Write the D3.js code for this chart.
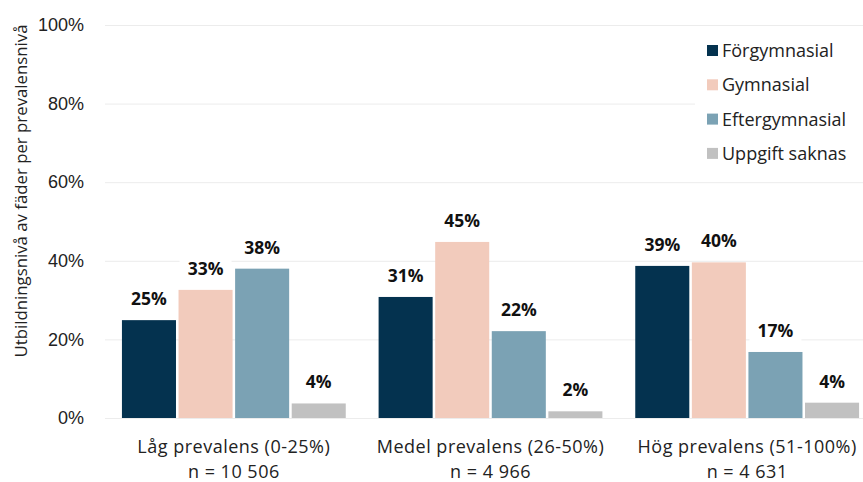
<!DOCTYPE html>
<html>
<head>
<meta charset="utf-8">
<script src="https://cdn.jsdelivr.net/npm/d3@7"></script>
<style>
  body { margin: 0; background: #fff; }
  svg { font-family: "Open Sans", sans-serif; }
  .y-axis .domain { display: none; }
  .y-axis line { stroke: #ececec; }
  .y-axis text { font-size: 18px; fill: #222; }
</style>
</head>
<body>
<div id="chart"></div>
<script>
// chart data
var categories = ["Låg prevalens (0-25%)", "Medel prevalens (26-50%)", "Hög prevalens (51-100%)"];
var counts = ["n = 10 506", "n = 4 966", "n = 4 631"];
var seriesNames = ["Förgymnasial", "Gymnasial", "Eftergymnasial", "Uppgift saknas"];
var forgymnasial = [24.9, 30.8, 38.7];
var gymnasial = [32.6, 44.8, 39.6];
var eftergymnasial = [38.0, 22.1, 16.8];
var uppgiftSaknas = [3.7, 1.7, 3.9];
var yTicks = [0, 20, 40, 60, 80, 100];

var colors = ["#04324f", "#f2cbbc", "#7ba2b4", "#c1c1c1"];

var svgWidth = 863;
var svgHeight = 482;

var margin = { top: 25, right: 0, bottom: 64, left: 105 };
var width = svgWidth - margin.left - margin.right;
var height = svgHeight - margin.top - margin.bottom;

var svg = d3.select("#chart")
    .append("svg")
    .attr("width", svgWidth)
    .attr("height", svgHeight);

var chartGroup = svg.append("g")
    .attr("transform", `translate(${margin.left}, ${margin.top})`);

// build rows per category
var series = [forgymnasial, gymnasial, eftergymnasial, uppgiftSaknas];
var rows = categories.map(function(c, i) {
    return {
        category: c,
        count: counts[i],
        values: series.map(function(s, j) { return { key: seriesNames[j], value: s[i] }; })
    };
});

var x0 = d3.scaleBand()
    .domain(categories)
    .range([0, 771])
    .paddingInner(0.128)
    .paddingOuter(0.066);

var x1 = d3.scaleBand()
    .domain(seriesNames)
    .range([0, x0.bandwidth()])
    .paddingInner(0.045)
    .paddingOuter(0);

var y = d3.scaleLinear()
    .domain([0, 100])
    .range([height, 0]);

var color = d3.scaleOrdinal()
    .domain(seriesNames)
    .range(colors);

// gridlines + y axis
var yAxis = chartGroup.append("g")
    .classed("y-axis", true)
    .call(d3.axisLeft(y)
        .tickValues(yTicks)
        .tickSize(-width)
        .tickPadding(21)
        .tickFormat(d => d + "%"));

yAxis.selectAll(".tick")
    .filter(d => d === 0)
    .select("line")
    .attr("stroke", "#d9d9d9");

// bars
var groups = chartGroup.selectAll(".group")
    .data(rows)
    .enter()
    .append("g")
    .attr("class", "group")
    .attr("transform", d => `translate(${x0(d.category)}, 0)`);

groups.selectAll("rect")
    .data(d => d.values)
    .enter()
    .append("rect")
    .attr("x", d => x1(d.key))
    .attr("y", d => y(d.value))
    .attr("width", x1.bandwidth())
    .attr("height", d => height - y(d.value))
    .attr("fill", d => color(d.key));

// value labels with white background
var labels = groups.selectAll(".label")
    .data(d => d.values)
    .enter()
    .append("g")
    .attr("class", "label")
    .attr("transform", d => `translate(${x1(d.key) + x1.bandwidth() / 2}, ${y(d.value) - 15})`);

labels.append("rect")
    .attr("x", -26)
    .attr("y", -18)
    .attr("width", 52)
    .attr("height", 23)
    .attr("fill", "#fff");

labels.append("text")
    .attr("text-anchor", "middle")
    .attr("font-size", "17.5px")
    .attr("font-weight", "bold")
    .attr("fill", "#111")
    .text(d => Math.round(d.value) + "%");

// category labels, two separate lines
var catX = d => x0(d.category) + x0.bandwidth() / 2;

chartGroup.selectAll(".cat")
    .data(rows)
    .enter()
    .append("text")
    .attr("class", "cat")
    .attr("text-anchor", "middle")
    .attr("font-size", "18px")
    .attr("letter-spacing", "0.5px")
    .attr("fill", "#222")
    .attr("x", catX)
    .attr("y", height + 35)
    .text(d => d.category);

chartGroup.selectAll(".count")
    .data(rows)
    .enter()
    .append("text")
    .attr("class", "count")
    .attr("text-anchor", "middle")
    .attr("font-size", "18px")
    .attr("letter-spacing", "0.5px")
    .attr("fill", "#222")
    .attr("x", catX)
    .attr("y", height + 59.6)
    .text(d => d.count);

// y axis title
svg.append("text")
    .attr("transform", "rotate(-90)")
    .attr("x", -191)
    .attr("y", 27)
    .attr("text-anchor", "middle")
    .attr("font-size", "16.8px")
    .attr("fill", "#222")
    .text("Utbildningsnivå av fäder per prevalensnivå");

// legend
var legend = svg.append("g")
    .attr("transform", "translate(700, 34)");

legend.append("rect")
    .attr("x", -5)
    .attr("y", -4)
    .attr("width", 168)
    .attr("height", 140)
    .attr("fill", "#fff");

var legendItems = legend.selectAll(".item")
    .data(seriesNames)
    .enter()
    .append("g")
    .attr("class", "item")
    .attr("transform", (d, i) => `translate(0, ${i * 34.3})`);

legendItems.append("rect")
    .attr("x", 7)
    .attr("y", 11)
    .attr("width", 11)
    .attr("height", 11)
    .attr("fill", d => color(d));

legendItems.append("text")
    .attr("x", 22)
    .attr("y", 23)
    .attr("font-size", "18px")
    .attr("fill", "#222")
    .text(d => d);
</script>
</body>
</html>
